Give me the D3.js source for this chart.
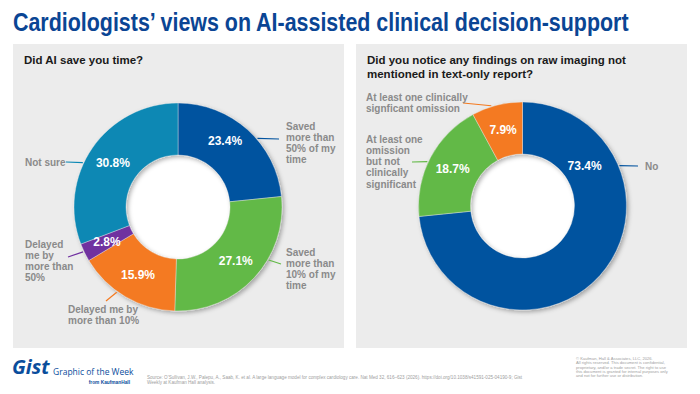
<!DOCTYPE html>
<html>
<head>
<meta charset="utf-8">
<script src="https://cdn.jsdelivr.net/npm/d3@7"></script>
<style>
  html, body { margin: 0; padding: 0; background: #fff; }
  svg { display: block; font-family: "Liberation Sans", Arial, sans-serif; }
</style>
</head>
<body>
<div id="chart"></div>
<script>
// Left donut: "Did AI save you time?"
const timeCategories = ["Saved more than 50% of my time", "Saved more than 10% of my time",
    "Delayed me by more than 10%", "Delayed me by more than 50%", "Not sure"];
const timeValues = [23.4, 27.1, 15.9, 2.8, 30.8];
const timeLabelLines = [
    ["Saved", "more than", "50% of my", "time"],
    ["Saved", "more than", "10% of my", "time"],
    ["Delayed me by", "more than 10%"],
    ["Delayed", "me by", "more than", "50%"],
    ["Not sure"]
];
const timeColors = ["#02539f", "#62b946", "#f47a20", "#7030a0", "#0a88b4"];

// Right donut: findings on raw imaging
const findCategories = ["No", "At least one omission but not clinically significant",
    "At least one clinically signficant omission"];
const findValues = [73.4, 18.7, 7.9];
const findLabelLines = [
    ["No"],
    ["At least one", "omission", "but not", "clinically", "significant"],
    ["At least one clinically", "signficant omission"]
];
const findColors = ["#02539f", "#62b946", "#f47a20"];

const width = 700, height = 394;
const outerR = 104, innerR = 52;

const svg = d3.select("#chart").append("svg")
    .attr("width", width)
    .attr("height", height);

const defs = svg.append("defs");
defs.append("filter")
    .attr("id", "shadow")
    .attr("x", "-20%").attr("y", "-20%")
    .attr("width", "140%").attr("height", "140%")
    .append("feDropShadow")
    .attr("dx", 2).attr("dy", 2)
    .attr("stdDeviation", 2)
    .attr("flood-color", "#000")
    .attr("flood-opacity", 0.3);

// main title, squeezed horizontally to a narrow look
const title = svg.append("text")
    .style("font-family", "'Liberation Sans Narrow', 'Liberation Sans', Arial, sans-serif")
    .style("font-size", "25px")
    .style("font-weight", "bold")
    .style("fill", "#0a4594")
    .text("Cardiologists\u2019 views on AI-assisted clinical decision-support");
const titleW = title.node().getComputedTextLength();
title.attr("transform", `translate(13,31) scale(${616 / titleW},1)`);

// panels
const panels = [
    { x: 13, title: ["Did AI save you time?"] },
    { x: 356, title: ["Did you notice any findings on raw imaging not", "mentioned in text-only report?"] }
];
panels.forEach(p => {
    svg.append("rect")
        .attr("x", p.x).attr("y", 44)
        .attr("width", 331).attr("height", 304)
        .style("fill", "#ececec");
    svg.append("text")
        .attr("x", p.x + 11)
        .attr("y", 64)
        .style("font-size", "11.5px")
        .style("font-weight", "bold")
        .style("fill", "#1a1a1a")
        .selectAll("tspan")
        .data(p.title)
        .enter().append("tspan")
        .attr("x", p.x + 11)
        .attr("dy", (d, i) => i ? 14 : 0)
        .text(d => d);
});

const arc = d3.arc().innerRadius(innerR).outerRadius(outerR);
const pie = d3.pie().sort(null).value(d => d.value);

function polar(angleDeg, r) {
    const a = angleDeg * Math.PI / 180;
    return [r * Math.sin(a), -r * Math.cos(a)];
}

function renderDonut(cx, cy, categories, values, colors, lines, layout) {
    const data = categories.map((c, i) => ({ label: c, value: values[i], color: colors[i], lines: lines[i] }));
    const g = svg.append("g").attr("transform", `translate(${cx},${cy})`);

    g.append("circle").attr("r", innerR).style("fill", "#fff");

    const ring = g.append("g").attr("filter", "url(#shadow)");
    const arcs = pie(data);
    ring.selectAll("path")
        .data(arcs)
        .enter().append("path")
        .attr("d", arc)
        .style("fill", d => d.data.color)
        .style("stroke", "#ececec")
        .style("stroke-width", 0.4);

    // percentage labels
    g.selectAll(".pct")
        .data(arcs)
        .enter().append("text")
        .attr("class", "pct")
        .attr("transform", (d, i) => {
            const o = layout[i];
            const mid = (d.startAngle + d.endAngle) / 2 * 180 / Math.PI;
            const pos = polar(o.pctAngle !== undefined ? o.pctAngle : mid, o.pctR || 79);
            return `translate(${pos})`;
        })
        .attr("dy", "0.36em")
        .attr("text-anchor", "middle")
        .style("font-size", "12px")
        .style("font-weight", "bold")
        .style("fill", "#fff")
        .text(d => d3.format(".1f")(d.data.value) + "%");

    // leader lines
    g.selectAll(".leader")
        .data(arcs)
        .enter().append("line")
        .attr("x1", (d, i) => polar(layout[i].leadAngle, outerR + 1)[0])
        .attr("y1", (d, i) => polar(layout[i].leadAngle, outerR + 1)[1])
        .attr("x2", (d, i) => layout[i].leadEnd[0])
        .attr("y2", (d, i) => layout[i].leadEnd[1])
        .style("stroke", d => d.data.color)
        .style("stroke-width", 1.2);

    // category labels
    const lbl = g.selectAll(".lbl")
        .data(arcs)
        .enter().append("text")
        .attr("class", "lbl")
        .attr("x", (d, i) => layout[i].label[0])
        .attr("y", (d, i) => layout[i].label[1])
        .style("font-size", "10px")
        .style("font-weight", "bold")
        .style("fill", "#8a8a8a");
    lbl.selectAll("tspan")
        .data((d, i) => d.data.lines.map(t => ({ t, x: layout[i].label[0] })))
        .enter().append("tspan")
        .attr("x", d => d.x)
        .attr("dy", (d, i) => i ? 11.3 : 3.5)
        .text(d => d.t);
}

renderDonut(178, 207, timeCategories, timeValues, timeColors, timeLabelLines, [
    { leadAngle: 49.2, leadEnd: [101, -68], label: [108, -81], pctAngle: 35.5, pctR: 81 },
    { leadAngle: 120.3, leadEnd: [103, 57], label: [108, 45] },
    { leadAngle: 215.7, leadEnd: [-72, 94], label: [-110, 102] },
    { leadAngle: 244.7, leadEnd: [-110, 50], label: [-153, 37] },
    { leadAngle: 295, leadEnd: [-112, -45], label: [-153, -45] }
]);

renderDonut(522.5, 206, findCategories, findValues, findColors, findLabelLines, [
    { leadAngle: 67.4, leadEnd: [115.5, -40], label: [122.5, -40], pctAngle: 57, pctR: 74 },
    { leadAngle: 295, leadEnd: [-110.5, -44], label: [-156.5, -67] },
    { leadAngle: 342.7, leadEnd: [-59.5, -103], label: [-156.5, -109] }
]);

// footer
svg.append("text")
    .attr("x", 12).attr("y", 374)
    .style("font-family", "'Open Sans', 'Liberation Sans', sans-serif")
    .style("font-size", "20px")
    .style("font-weight", "bold")
    .style("font-style", "italic")
    .style("fill", "#0a4d9c")
    .text("Gist");
svg.append("text")
    .attr("x", 53).attr("y", 375)
    .style("font-family", "'Open Sans', 'Liberation Sans', sans-serif")
    .style("font-size", "8.5px")
    .style("fill", "#0a4d9c")
    .text("Graphic of the Week");
svg.append("text")
    .attr("x", 130).attr("y", 384)
    .attr("text-anchor", "end")
    .style("font-size", "4.8px")
    .style("font-weight", "bold")
    .style("fill", "#0a4d9c")
    .text("from KaufmanHall");

const sourceLines = [
    "Source: O\u2019Sullivan, J.W., Palepu, A., Saab, K. et al. A large language model for complex cardiology care. Nat Med 32, 616\u2013623 (2026). https://doi.org/10.1038/s41591-025-04190-9; Gist",
    "Weekly at Kaufman Hall analysis."
];
svg.append("text")
    .attr("x", 147).attr("y", 379)
    .style("font-size", "4.6px")
    .style("fill", "#a0a0a0")
    .selectAll("tspan")
    .data(sourceLines)
    .enter().append("tspan")
    .attr("x", 147)
    .attr("dy", (d, i) => i ? 5.3 : 0)
    .text(d => d);

const rightsLines = [
    "\u00a9 Kaufman, Hall & Associates, LLC, 2026.",
    "All rights reserved. This document is confidential,",
    "proprietary, and/or a trade secret. The right to use",
    "this document is granted for internal purposes only",
    "and not for further use or distribution."
];
svg.append("text")
    .attr("x", 576).attr("y", 360)
    .style("font-size", "4.1px")
    .style("fill", "#a0a0a0")
    .selectAll("tspan")
    .data(rightsLines)
    .enter().append("tspan")
    .attr("x", 576)
    .attr("dy", (d, i) => i ? 4.3 : 0)
    .text(d => d);
</script>
</body>
</html>
